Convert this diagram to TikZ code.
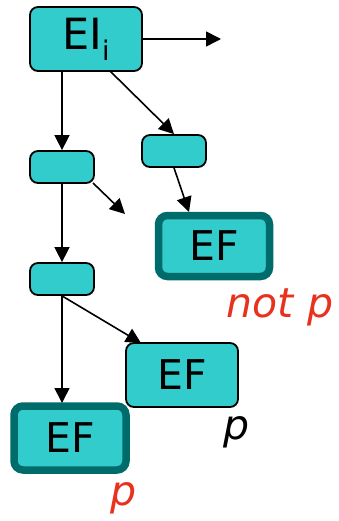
\documentclass[tikz,border=0pt]{standalone}
\usepackage{fontspec}
\setmainfont{DejaVu Sans}
\usetikzlibrary{arrows.meta}
\definecolor{boxfill}{HTML}{33CCCC}
\definecolor{boxedge}{HTML}{006B6B}
\definecolor{labred}{HTML}{E8321E}
\begin{document}
\begin{tikzpicture}[x=1pt,y=-1pt,
  box/.style={draw=black,line width=1.8pt,fill=boxfill,rounded corners=8pt,inner sep=0pt},
  final/.style={draw=boxedge,line width=7.5pt,fill=boxfill,rounded corners=9pt,inner sep=0pt},
  arr/.style={line width=1.6pt,-{Triangle[length=15pt,width=15pt]}},
  lab/.style={font=\fontsize{41}{41}\selectfont\itshape,inner sep=0pt}]
\useasboundingbox (0,0) rectangle (339,521);
\node[box,minimum width=112pt,minimum height=64pt] (ei) at (86,39) {\fontsize{43}{43}\selectfont EI\raisebox{-0.25em}{\fontsize{27}{27}\selectfont i}};
\node[box,minimum width=64pt,minimum height=32pt] (s1) at (62,167) {};
\node[box,minimum width=64pt,minimum height=32pt] (s2) at (174,151) {};
\node[box,minimum width=64pt,minimum height=32pt] (s3) at (62,279) {};
\node[final,minimum width=111pt,minimum height=61pt] (ef1) at (214,246) {\fontsize{41}{41}\selectfont EF};
\node[box,minimum width=112pt,minimum height=64pt] (ef2) at (182,375) {\fontsize{41}{41}\selectfont EF};
\node[final,minimum width=112pt,minimum height=64pt] (ef3) at (70,438) {\fontsize{41}{41}\selectfont EF};
\coordinate (o1) at (221,39);
\coordinate (o2) at (125,214);
\draw[arr] (ei.east) -- (o1);
\draw[arr] (ei.south -| s1.north) -- (s1.north);
\draw[arr] (110,71) -- (s2.north);
\draw[arr] (93,183) -- (o2);
\draw[arr] (s2.south) -- (189,212);
\draw[arr] (s1.south) -- (s3.north);
\draw[arr] (s3.south) -- (62,403);
\draw[arr] (s3.south) -- (141,343);
\node[lab,text=labred] (np) at (280,307) {not p};
\node[lab,text=black] (p1) at (237,432) {p};
\node[lab,text=labred] (p2) at (124,498) {p};
\end{tikzpicture}
\end{document}
